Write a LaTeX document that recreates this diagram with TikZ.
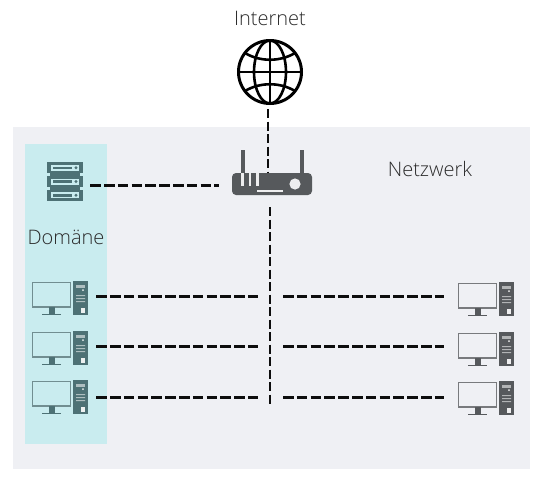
\documentclass[tikz,border=0pt]{standalone}
\usepackage{fontspec}
\setmainfont{Open Sans Light}
\usepackage{xcolor}
\usetikzlibrary{positioning, calc}
\definecolor{netgrey}{HTML}{EFF0F4}
\definecolor{domcyan}{HTML}{C9ECEF}
\definecolor{devgrey}{HTML}{56595C}
\definecolor{domteal}{HTML}{4D7175}
\definecolor{labelink}{HTML}{2B2B2B}

\tikzset{
  link/.style={line width=3pt,dash pattern=on 10.5pt off 3.3pt,color=black!95},
  buslink/.style={link,line width=2.8pt,dash pattern=on 9.2pt off 3.3pt},
  label/.style={font=\fontsize{20}{23}\selectfont,text=labelink},
  pcbox/.style={minimum width=56pt,minimum height=34pt,inner sep=0pt},
  pics/pcicon/.style={code={
    \draw[#1!80!white,line width=1.4pt] (-27.5,-15.5) rectangle (10.5,9);
    \fill[#1] (-11.5,9) rectangle (-5.5,16);
    \fill[#1] (-18,15.5) rectangle (1,17);
    \fill[#1] (13,-17) rectangle (28,17);
    \fill[white,opacity=.55] (16,-13) rectangle (25,-10);
    \fill[white,opacity=.9] (23,-8) circle (1);
    \fill[white,opacity=.55] (16,-3) rectangle (25,-2) (16,0) rectangle (25,1) (16,3) rectangle (25,4);
    \fill[white,opacity=.9] (21,10) rectangle (25,15);
  }},
  pics/serverunit/.style={code={
    \fill[domteal] (-18,-5.7) rectangle (18,5.7);
    \fill[domcyan] (-14,-3) rectangle (14,3);
    \fill[domteal] (-12.5,-1.2) rectangle (7,1.2);
    \fill[domteal] (11,0) circle (1.6);
  }}
}

\begin{document}
\begin{tikzpicture}[x=1pt,y=-1pt]
  \useasboundingbox (0,0) rectangle (544,485);
  \fill[white] (0,0) rectangle (544,485);
  \fill[netgrey] (13,127) rectangle (530,469);
  \fill[domcyan] (25,144) rectangle (107,444);

  % labels
  \node[label] (inet) at (270,18) {Internet};
  \node[label] (netz) at (430,169) {Netzwerk};
  \node[label] (dom) at (66,237) {Domäne};

  % globe
  \node[circle,draw=black,line width=3pt,minimum size=63pt,inner sep=0pt] (globe) at (270,72) {};
  \draw[line width=2.6pt] (globe.north) -- (globe.south) (globe.west) -- (globe.east);
  \draw[line width=2.6pt] (globe.center) ellipse (16 and 31.5);
  \draw[line width=2.6pt] ($(globe)+(-25,-19)$) .. controls ($(globe)+(-10,-10)$) and ($(globe)+(10,-10)$) .. ($(globe)+(25,-19)$);
  \draw[line width=2.6pt] ($(globe)+(-25,19)$) .. controls ($(globe)+(-10,10)$) and ($(globe)+(10,10)$) .. ($(globe)+(25,19)$);

  % router
  \node[fill=devgrey,rounded corners=4pt,minimum width=80pt,minimum height=22pt,inner sep=0pt] (router) at (272,184) {};
  \draw[devgrey,line width=3.2pt] ($(router)+(-29,-9)$) -- ++(0,-25);
  \draw[devgrey,line width=3.2pt] ($(router)+(30,-9)$) -- ++(0,-25);
  \fill[white,opacity=.9] ($(router)+(-31,-11)$) rectangle ++(2.5,13);
  \fill[white,opacity=.9] ($(router)+(-23.5,-11)$) rectangle ++(2.5,13);
  \fill[white,opacity=.9] ($(router)+(-16,-11)$) rectangle ++(2.5,13);
  \fill[white,opacity=.9] ($(router)+(-15,6)$) rectangle ++(26,2.4);
  \fill[white,opacity=.9] ($(router)+(23,0)$) circle (5.6);

  % server
  \node[minimum width=36pt,minimum height=39pt,inner sep=0pt] (server) at (65,181.5) {};
  \fill[domteal] ($(server)+(-15,-15)$) rectangle ($(server)+(15,15)$);
  \pic at ($(server)+(0,-13.8)$) {serverunit};
  \pic at ($(server)+(0,0)$) {serverunit};
  \pic at ($(server)+(0,13.8)$) {serverunit};

  % computers
  \node[pcbox] (lpcA) at (60,298) {};
  \node[pcbox] (lpcB) at (60,348) {};
  \node[pcbox] (lpcC) at (60,397) {};
  \node[pcbox] (rpcA) at (486,299) {};
  \node[pcbox] (rpcB) at (486,349) {};
  \node[pcbox] (rpcC) at (486,398) {};
  \foreach \n in {lpcA,lpcB,lpcC} \pic at (\n) {pcicon=domteal};
  \foreach \n in {rpcA,rpcB,rpcC} \pic at (\n) {pcicon=devgrey};

  % bus
  \coordinate (busEnd) at (270,404.5);
  \coordinate (tapA) at (270,296);
  \coordinate (tapB) at (270,346);
  \coordinate (tapC) at (270,397);

  \draw[buslink] ([xshift=-2pt,yshift=-4pt]globe.south) -- ([xshift=-4pt]router.north);
  \draw[link] ($(server.east |- router)+(7,1)$) -- ($(router.west)+(-13,1)$);
  \draw[buslink] ($(router.south)+(-2,12)$) -- (busEnd);
  \foreach \n/\m/\t in {lpcA/rpcA/tapA,lpcB/rpcB/tapB,lpcC/rpcC/tapC} {
    \draw[link,shorten <=8pt,shorten >=12pt] (\n.east |- \t) -- (\t);
    \draw[link,shorten <=13pt,shorten >=14pt] (\t) -- (\m.west |- \t);
  }
\end{tikzpicture}
\end{document}
